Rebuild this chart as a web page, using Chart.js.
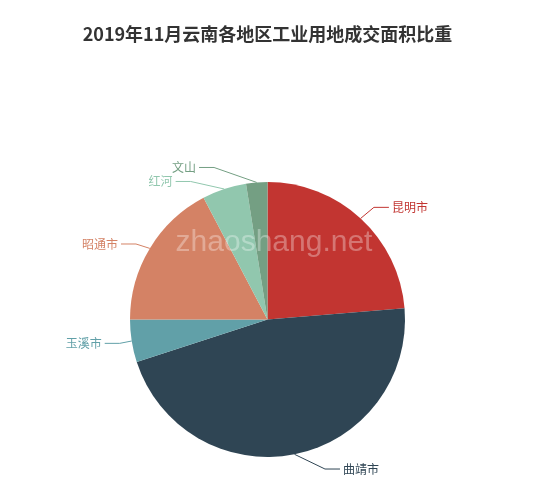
<!DOCTYPE html>
<html><head><meta charset="utf-8">
<script src="https://cdn.jsdelivr.net/npm/chart.js@4"></script>
<style>html,body{margin:0;padding:0;background:#fff}#wrap{width:550px;height:490px;position:relative}</style>
</head><body><div id="wrap"><canvas id="c" width="550" height="490"></canvas></div>
<script>
const titleText = '2019年11月云南各地区工业用地成交面积比重';
const categories = ['昆明市', '曲靖市', '玉溪市', '昭通市', '红河', '文山'];
const shares = [23.7, 46.3, 5.0, 17.3, 5.2, 2.5];
const sliceColors = ['#c23531', '#2f4554', '#61a0a8', '#d48265', '#91c7ae', '#749f83'];
const watermarkText = 'zhaoshang.net';

const LEN = 15, LEN2 = 15, LABEL_H = 14;

function adjustSide(list, cy) {
  list.sort((a, b) => a.y - b.y);
  const n = list.length;
  function shiftUp(end, delta) {
    for (let j = end; j >= 0; j--) {
      list[j].y -= delta;
      if (j > 0 && list[j].y > list[j - 1].y + LABEL_H) break;
    }
  }
  function shiftDown(start, end, delta) {
    for (let j = start; j < end; j++) {
      list[j].y += delta;
      if (j > start && j + 1 < end && list[j + 1].y > list[j].y + LABEL_H) {
        shiftUp(j, delta / 2);
        return;
      }
    }
    shiftUp(end - 1, delta / 2);
  }
  let lastY = 0;
  for (let i = 0; i < n; i++) {
    const d = list[i].y - lastY;
    if (d < 0) shiftDown(i, n, -d);
    lastY = list[i].y + LABEL_H;
  }
}

const pieLabels = {
  id: 'pieLabels',
  afterDatasetsDraw(chart) {
    const ctx = chart.ctx;
    const meta = chart.getDatasetMeta(0);
    const items = [];
    meta.data.forEach((arc, i) => {
      const p = arc.getProps(['x', 'y', 'startAngle', 'endAngle', 'outerRadius'], true);
      const mid = (p.startAngle + p.endAngle) / 2;
      const dx = Math.cos(mid), dy = Math.sin(mid);
      const r = p.outerRadius;
      items.push({
        i, cx: p.x, cy: p.y, r, dx, dy,
        x1: p.x + r * dx, y1: p.y + r * dy,
        y: p.y + (r + LEN) * dy,
        dir: dx < 0 ? -1 : 1
      });
    });
    adjustSide(items.filter(o => o.dir > 0), 0);
    adjustSide(items.filter(o => o.dir < 0), 0);

    // watermark
    ctx.save();
    ctx.font = '30px "Liberation Sans", Arial, sans-serif';
    ctx.fillStyle = 'rgba(255,255,255,0.32)';
    ctx.textAlign = 'center';
    ctx.textBaseline = 'alphabetic';
    ctx.fillText(watermarkText, 274, 251);
    ctx.restore();

    ctx.save();
    ctx.font = '12px "Noto Sans CJK SC", sans-serif';
    ctx.textBaseline = 'middle';
    ctx.lineWidth = 1;
    items.forEach(o => {
      const R = o.r + LEN + LEN2;
      const dyc = Math.min(Math.abs(o.y - o.cy), o.r + LEN - 1);
      const deltaX = Math.sqrt(R * R - dyc * dyc);
      const textX = o.cx + o.dir * deltaX;
      const lineEnd = textX - o.dir * 3;
      const elbowX = lineEnd - o.dir * LEN2;
      const col = sliceColors[o.i];
      ctx.strokeStyle = col;
      ctx.beginPath();
      ctx.moveTo(o.x1, o.y1);
      ctx.lineTo(elbowX, o.y);
      ctx.lineTo(lineEnd, o.y);
      ctx.stroke();
      ctx.fillStyle = col;
      ctx.textAlign = o.dir > 0 ? 'left' : 'right';
      ctx.fillText(categories[o.i], textX, o.y);
    });
    ctx.restore();

    // title
    ctx.save();
    ctx.font = 'bold 18px "Noto Sans CJK SC", sans-serif';
    ctx.fillStyle = '#333';
    ctx.textAlign = 'center';
    ctx.textBaseline = 'middle';
    ctx.fillText(titleText, 267.5, 34);
    ctx.restore();
  }
};

new Chart(document.getElementById('c'), {
  type: 'pie',
  data: {
    labels: categories,
    datasets: [{
      data: shares,
      backgroundColor: sliceColors,
      borderWidth: 0
    }]
  },
  options: {
    responsive: false,
    animation: false,
    layout: { padding: { left: 130, right: 145, top: 182, bottom: 33 } },
    plugins: { legend: { display: false }, tooltip: { enabled: false }, title: { display: false } }
  },
  plugins: [pieLabels]
});
</script>
</body></html>
